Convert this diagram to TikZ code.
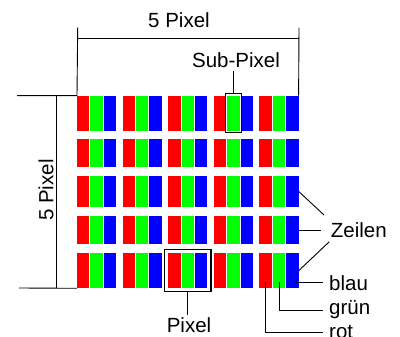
\documentclass[tikz,border=0pt]{standalone}
\usepackage{fontspec}
\setmainfont{Liberation Sans}
\usetikzlibrary{fit}
\begin{document}
\begin{tikzpicture}[x=1pt,y=-1pt,
  sub/.style={inner sep=0pt,outer sep=0pt,minimum width=12.4pt,anchor=north west},
  frame/.style={draw,line width=1.2pt},
  lbl/.style={font=\fontsize{20.5}{24}\selectfont,inner sep=3pt},
  thin/.style={line width=0.9pt}]
  \useasboundingbox (0,0) rectangle (400,337);
  % Subpixel: Zeilen, Pixel, Farben
  \foreach \r/\ya/\yb in {1/95.7/130.7,2/139.3/167.3,3/176/206.7,4/215.7/244.3,5/253.3/288.3}
    \foreach \c in {1,...,5}
      \foreach \k/\col in {1/red,2/green,3/blue}
        \node[sub,fill=\col,minimum height={(\yb-\ya)*1pt}] (s-\r-\c-\k)
          at ({77+45.6*(\c-1)+13.4*(\k-1)},\ya) {};

  \node[frame,fit=(s-1-4-2),inner sep=1.8pt] (subbox) {};
  \node[frame,fit=(s-5-3-1)(s-5-3-3),inner sep=3.6pt] (pixbox) {};

  % Bemassung
  \draw[thin] (77.7,27.7) -- (s-1-1-1.north west) -- (17,95.7);
  \draw[thin] (299,27.7) -- (s-1-5-3.north east);
  \draw[thin] (77.7,38.3) -- (299,38.3);
  \draw[thin] (56,95.7) -- (56,288);
  \draw[thin] (19,288) -- (s-5-1-1.south west);
  \node[lbl,anchor=base] (wlbl) at (179,27.3) {5 Pixel};
  \node[lbl,anchor=base,rotate=90] (hlbl) at (53.3,190) {5 Pixel};

  \node[lbl,anchor=base] (sublbl) at (236,67.5) {Sub-Pixel};
  \draw[thin] (subbox.north) -- (subbox.north |- sublbl.south);
  \node[lbl,anchor=base] (pixlbl) at (189,332.7) {Pixel};
  \draw[thin] (pixbox.south) -- (pixbox.south |- pixlbl.north);

  \node[lbl,anchor=base west] (zeilen) at (327.7,237.3) {Zeilen};
  \coordinate (z1) at (324,215);
  \coordinate (z2) at (320.7,230);
  \coordinate (z3) at (329.3,241.7);
  \draw[thin] (s-3-5-3.east) -- (z1);
  \draw[thin] (s-4-5-3.east) -- (z2);
  \draw[thin] (s-5-5-3.east) -- (z3);

  \node[lbl,anchor=base west,inner xsep=6.5pt] (blau) at (322.5,290.7) {blau};
  \node[lbl,anchor=base west,inner xsep=6.5pt] (gruen) at (322.5,315) {grün};
  \node[lbl,anchor=base west,inner xsep=6.5pt] (rot) at (322.5,339) {rot};
  \coordinate (b0) at ([xshift=2.4pt,yshift=6pt]s-5-5-3.south);
  \draw[thin] (b0) -- (b0 -| blau.west);
  \draw[thin] ([yshift=6pt]s-5-5-2.south) |- (gruen.west);
  \draw[thin] ([yshift=6pt]s-5-5-1.south) |- (rot.west);
\end{tikzpicture}
\end{document}
